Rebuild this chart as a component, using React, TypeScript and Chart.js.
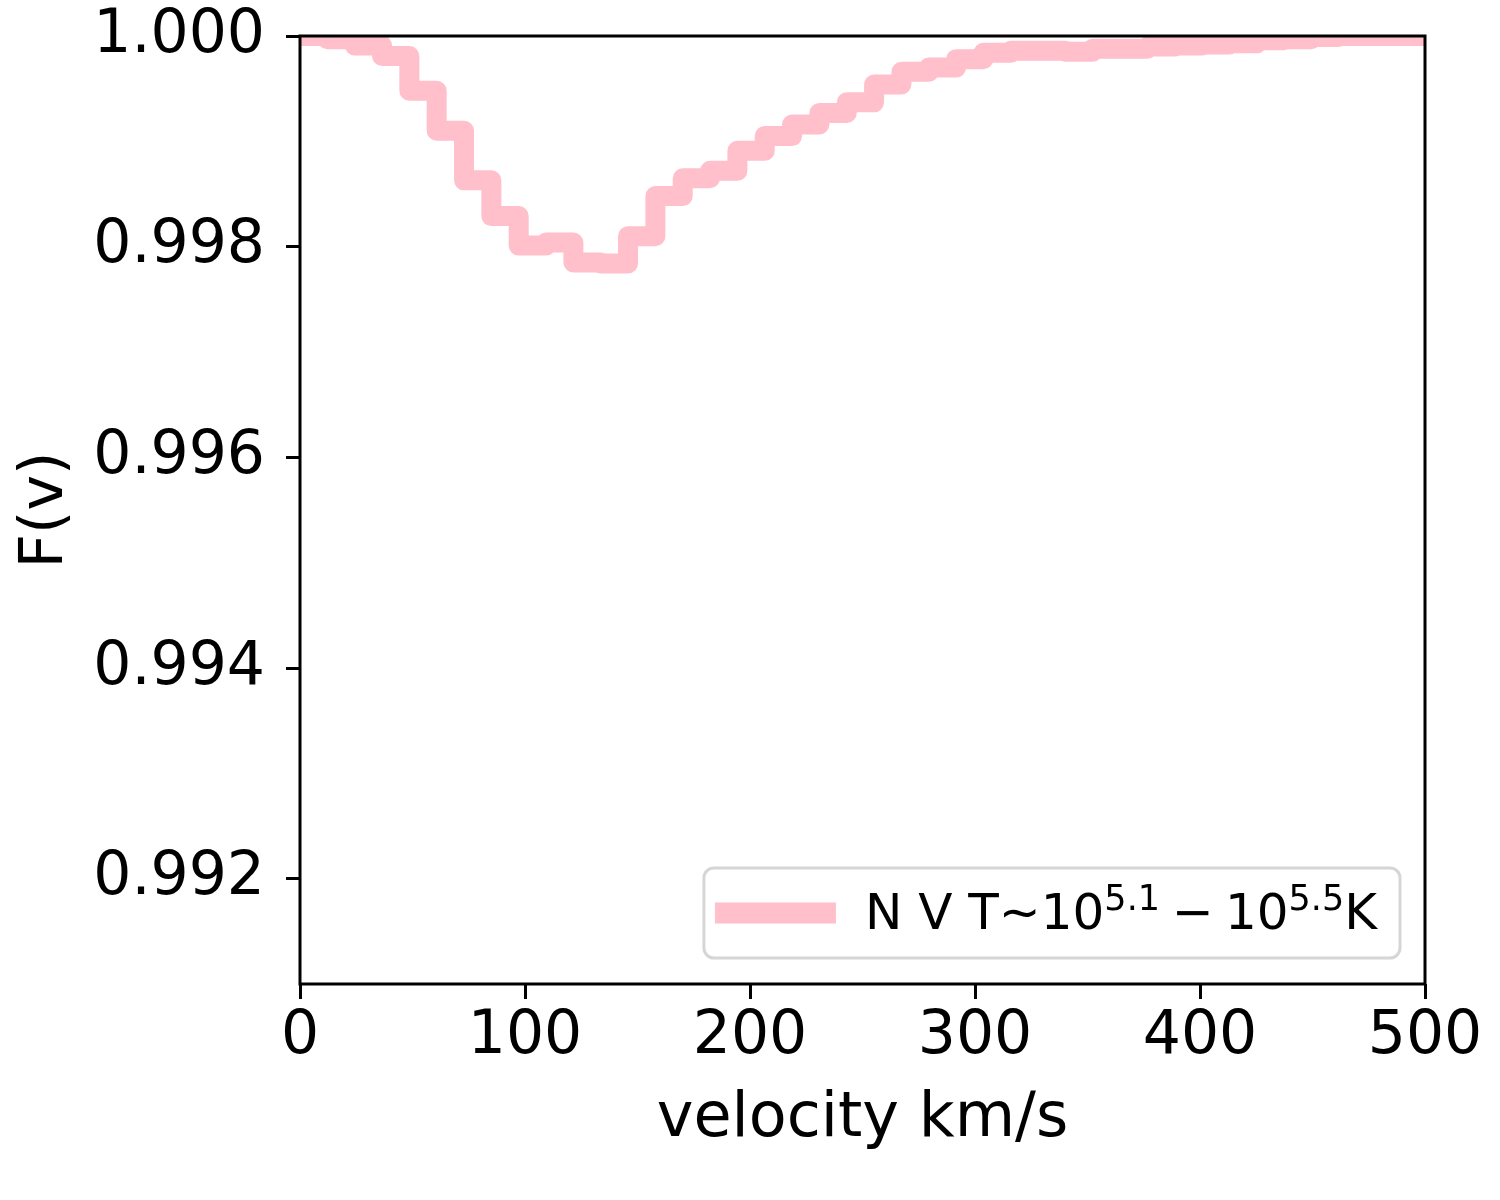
import React, { useEffect, useRef } from "react";
import { Chart, registerables } from "chart.js";

Chart.register(...registerables);

// velocity grid (km/s), each value is the left edge of a step
const velocity = [
  0, 12.15, 24.3, 36.45, 48.6, 60.75, 72.9, 85.05, 97.2, 109.35, 121.5, 133.65,
  145.8, 157.95, 170.1, 182.25, 194.4, 206.55, 218.7, 230.85, 243, 255.15,
  267.3, 279.45, 291.6, 303.75, 315.9, 328.05, 340.2, 352.35, 364.5, 376.65,
  388.8, 400.95, 413.1, 425.25, 437.4, 449.55, 461.7, 473.85, 486, 498.15, 500,
];

// F(v) level of each step
const flux = [
  1.0, 0.99997, 0.99991, 0.99981, 0.99948, 0.9991, 0.99863, 0.99829, 0.99801,
  0.99804, 0.99785, 0.99784, 0.9981, 0.99848, 0.99865, 0.99872, 0.99891,
  0.99905, 0.99916, 0.99927, 0.99937, 0.99954, 0.99966, 0.9997, 0.99978,
  0.99984, 0.99986, 0.99986, 0.99985, 0.99988, 0.99988, 0.9999, 0.99991,
  0.99992, 0.99993, 0.99996, 0.99997, 0.99999, 1.0, 1.0, 1.0, 1.0, 1.0,
];

const xTicks = [0, 100, 200, 300, 400, 500];
const yTicks = [0.992, 0.994, 0.996, 0.998, 1.0];

// legend label: N V T~10^5.1 - 10^5.5 K
const legendParts = [
  { text: "N V T\u223C10", sup: false, gap: 0 },
  { text: "5.1", sup: true, gap: 0 },
  { text: "\u2212", sup: false, gap: 12 },
  { text: "10", sup: false, gap: 11 },
  { text: "5.5", sup: true, gap: 0 },
  { text: "K", sup: false, gap: 0 },
];

const PINK = "#ffc0cb";
const FONT = '"DejaVu Sans"';

const framePlugin = {
  id: "frame",
  afterDraw(chart: any) {
    const { ctx, chartArea } = chart;
    ctx.save();
    ctx.strokeStyle = "#000";
    ctx.lineWidth = 3;
    ctx.strokeRect(
      chartArea.left,
      chartArea.top,
      chartArea.right - chartArea.left,
      chartArea.bottom - chartArea.top
    );
    ctx.restore();
  },
};

const legendPlugin = {
  id: "boxLegend",
  afterDraw(chart: any) {
    const { ctx, chartArea } = chart;
    ctx.save();
    let textW = 0;
    const widths: number[] = [];
    legendParts.forEach((p) => {
      ctx.font = `${p.sup ? 35 : 50}px ${FONT}`;
      const w = ctx.measureText(p.text).width;
      widths.push(w);
      textW += p.gap + w;
    });
    const w = 11 + 121 + 29 + textW + 23;
    const h = 90;
    const right = chartArea.right - 25;
    const bottom = chartArea.bottom - 26;
    const left = right - w;
    const top = bottom - h;

    ctx.beginPath();
    ctx.roundRect(left, top, w, h, 10);
    ctx.fillStyle = "rgba(255,255,255,0.8)";
    ctx.fill();
    ctx.lineWidth = 3;
    ctx.strokeStyle = "#d6d6d6";
    ctx.stroke();

    const cy = top + h / 2;
    ctx.fillStyle = PINK;
    ctx.fillRect(left + 11, cy - 10.5, 121, 21);

    let x = left + 11 + 121 + 29;
    ctx.fillStyle = "#000";
    ctx.textBaseline = "alphabetic";
    ctx.textAlign = "left";
    legendParts.forEach((p, i) => {
      ctx.font = `${p.sup ? 35 : 50}px ${FONT}`;
      x += p.gap;
      ctx.fillText(p.text, x, cy + 16 - (p.sup ? 19 : 0));
      x += widths[i];
    });
    ctx.restore();
  },
};

const App: React.FC = () => {
  const chartRef = useRef<HTMLCanvasElement | null>(null);
  const chartInstance = useRef<Chart | null>(null);

  useEffect(() => {
    if (!chartRef.current) return;
    const ctx = chartRef.current.getContext("2d");
    if (!ctx) return;

    if (chartInstance.current) {
      chartInstance.current.destroy();
    }

    chartInstance.current = new Chart(ctx, {
      type: "line",
      data: {
        datasets: [
          {
            label: "N V",
            data: velocity.map((v, i) => ({ x: v, y: flux[i] })),
            borderColor: PINK,
            backgroundColor: PINK,
            borderWidth: 20,
            borderJoinStyle: "round",
            borderCapStyle: "butt",
            stepped: "before",
            pointRadius: 0,
            fill: false,
            clip: 0,
          },
        ],
      },
      options: {
        responsive: false,
        animation: false,
        devicePixelRatio: 1,
        layout: { padding: { top: 36, right: 75, left: 0, bottom: 0 } },
        plugins: {
          legend: { display: false },
          tooltip: { enabled: false },
        },
        scales: {
          x: {
            type: "linear",
            min: 0,
            max: 500,
            afterBuildTicks: (scale: any) => {
              scale.ticks = xTicks.map((v) => ({ value: v }));
            },
            afterFit: (scale: any) => {
              scale.height = 216;
              scale.paddingLeft = 0;
              scale.paddingRight = 0;
            },
            border: { display: false },
            grid: {
              drawOnChartArea: false,
              drawTicks: true,
              tickLength: 15,
              tickWidth: 3,
              tickColor: "#000",
            },
            ticks: {
              color: "#000",
              font: { family: FONT, size: 60 },
              padding: 2,
              maxRotation: 0,
            },
            title: {
              display: true,
              text: "velocity km/s",
              color: "#000",
              font: { family: FONT, size: 62 },
              padding: { top: 0, bottom: 43 },
            },
          },
          y: {
            type: "linear",
            min: 0.991,
            max: 1.0,
            afterBuildTicks: (scale: any) => {
              scale.ticks = yTicks.map((v) => ({ value: v }));
            },
            afterFit: (scale: any) => {
              scale.width = 300;
              scale.paddingTop = 0;
              scale.paddingBottom = 0;
            },
            border: { display: false },
            grid: {
              drawOnChartArea: false,
              drawTicks: true,
              tickLength: 14,
              tickWidth: 3,
              tickColor: "#000",
            },
            ticks: {
              color: "#000",
              font: { family: FONT, size: 60 },
              padding: 21,
              callback: (value: any) => Number(value).toFixed(3),
            },
            title: {
              display: true,
              text: "F(v)",
              color: "#000",
              font: { family: FONT, size: 60 },
              padding: { top: 10, bottom: 0 },
            },
          },
        },
      },
      plugins: [framePlugin, legendPlugin],
    });

    return () => {
      if (chartInstance.current) {
        chartInstance.current.destroy();
        chartInstance.current = null;
      }
    };
  }, []);

  return (
    <div
      style={{
        position: "absolute",
        left: 0,
        top: 0,
        width: 1500,
        height: 1200,
        background: "#fff",
      }}
    >
      <canvas ref={chartRef} width={1500} height={1200}></canvas>
    </div>
  );
};

export default App;
